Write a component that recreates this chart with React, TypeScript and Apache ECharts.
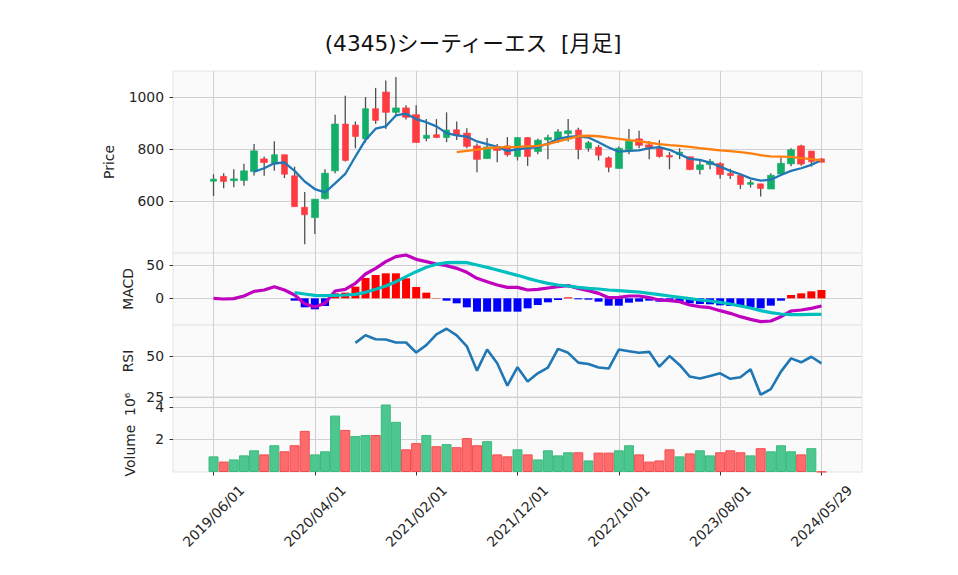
import React, { useEffect, useRef } from "react";
import * as echarts from "echarts";

const dates = [
  "2019/06/01", "2019/07/01", "2019/08/01", "2019/09/01", "2019/10/01", "2019/11/01", "2019/12/01",
  "2020/01/01", "2020/02/01", "2020/03/01", "2020/04/01", "2020/05/01", "2020/06/01", "2020/07/01",
  "2020/08/01", "2020/09/01", "2020/10/01", "2020/11/01", "2020/12/01",
  "2021/01/01", "2021/02/01", "2021/03/01", "2021/04/01", "2021/05/01", "2021/06/01", "2021/07/01",
  "2021/08/01", "2021/09/01", "2021/10/01", "2021/11/01", "2021/12/01",
  "2022/01/01", "2022/02/01", "2022/03/01", "2022/04/01", "2022/05/01", "2022/06/01", "2022/07/01",
  "2022/08/01", "2022/09/01", "2022/10/01", "2022/11/01", "2022/12/01",
  "2023/01/01", "2023/02/01", "2023/03/01", "2023/04/01", "2023/05/01", "2023/06/01", "2023/07/01",
  "2023/08/01", "2023/09/01", "2023/10/01", "2023/11/01", "2023/12/01",
  "2024/01/01", "2024/02/01", "2024/03/01", "2024/04/01", "2024/05/01", "2024/05/29",
];

const opens = [
  676, 695, 678, 679, 713, 762, 742, 778, 697, 576, 536, 609, 716, 896, 892, 839, 955, 1019, 941, 958,
  932, 841, 855, 844, 874, 861, 812, 763, 810, 812, 771, 844, 790, 835, 839, 859, 873, 803, 807, 766,
  725, 798, 839, 816, 803, 775, 778, 770, 721, 740, 744, 706, 699, 664, 666, 646, 704, 743, 812, 792, 762,
];
const closes = [
  684, 675, 685, 716, 793, 748, 778, 703, 578, 547, 607, 707, 896, 756, 848, 955, 910, 941, 958, 922,
  825, 853, 844, 873, 853, 810, 760, 808, 794, 778, 844, 771, 834, 844, 866, 870, 798, 824, 776, 730,
  803, 830, 814, 806, 771, 769, 788, 721, 739, 752, 702, 698, 663, 671, 648, 699, 745, 797, 742, 751, 749,
];
const highs = [
  703, 707, 722, 743, 819, 771, 830, 778, 732, 635, 608, 722, 932, 1005, 906, 1000, 1035, 1063, 1077, 968,
  968, 915, 915, 941, 906, 880, 821, 842, 819, 846, 846, 846, 839, 855, 877, 915, 882, 831, 816, 771,
  810, 877, 870, 831, 834, 788, 803, 770, 756, 762, 749, 724, 699, 681, 666, 707, 765, 803, 816, 792, 765,
];
const lows = [
  619, 649, 653, 659, 698, 697, 716, 688, 578, 434, 473, 606, 707, 752, 803, 825, 897, 877, 925, 913,
  825, 830, 842, 826, 835, 803, 711, 763, 749, 771, 756, 735, 780, 761, 823, 829, 761, 790, 756, 711,
  725, 780, 803, 761, 767, 722, 761, 718, 702, 722, 686, 685, 646, 652, 617, 646, 700, 734, 736, 733, 749,
];

// moving averages (null where not drawn)
const ma5 = [
  null, null, null, null, 713, 726, 745, 748, 716, 675, 646, 633, 668, 704, 771, 835, 878, 887, 929, 936,
  915, 903, 887, 861, 852, 848, 829, 819, 808, 793, 799, 803, 807, 821, 839, 847, 849, 844, 826, 806,
  790, 793, 795, 803, 807, 797, 780, 762, 758, 748, 732, 716, 703, 687, 678, 682, 700, 716, 726, 739, 758,
];
const ma25 = [
  null, null, null, null, null, null, null, null, null, null, null, null, null, null, null, null, null, null, null, null,
  null, null, null, null, 788, 793, 798, 803, 806, 807, 808, 810, 812, 819, 829, 839, 849, 851, 849, 844,
  839, 834, 830, 824, 819, 815, 812, 808, 803, 799, 795, 792, 788, 783, 776, 772, 771, 770, 765, 761, 756,
];

const macdLine = [
  0, -1, -0.5, 3.5, 10.5, 12.5, 17.5, 12.5, 5, -8, -13, -7.5, 11, 13.5, 22.5, 36.5, 45, 55, 62.5, 65,
  58.5, 55, 51.5, 49, 45, 39, 30, 25, 20, 16.5, 16.5, 12.5, 13.5, 15.5, 17.5, 19, 15, 11.5, 7.5, 1,
  1.5, 3.5, 3.5, 1, -2.5, -3.5, -5, -10, -12.5, -14, -18.5, -22.5, -27.5, -31.5, -35, -34, -27.5, -19, -17.5, -15, -11.5,
];
const signalLine = [
  null, null, null, null, null, null, null, null, 8.5, 6.5, 4.5, 4, 4.5, 5, 6, 9, 13.5, 18.5, 25, 32.5,
  40, 46.5, 51, 53.5, 54, 53.5, 50, 46.5, 42.5, 38.5, 34.5, 30, 26, 22.5, 20, 18.5, 16.5, 15, 14, 12.5,
  11.5, 10.5, 9.5, 7.5, 5.5, 3.5, 1.5, -0.5, -2.5, -4, -6, -8.5, -11.5, -14.5, -18.5, -21.5, -23.5, -24.5, -24.5, -24, -24,
];
const macdHist = [
  null, null, null, null, null, null, null, null, -3.5, -13.5, -16.5, -11.5, 7.5, 8.5, 17.5, 30.5, 35, 37.5, 37.5, 30,
  17, 8.5, 0.5, -3.5, -7.5, -13.5, -20, -20, -20, -20, -20, -15, -10, -6, -2.5, 1.5, -1.5, -2, -5, -11,
  -11, -6.5, -5, -3.5, -5, -5.5, -6.5, -7.5, -8.5, -9, -10.5, -11.5, -12.5, -13.5, -15, -11, -3.5, 5, 7.5, 10.5, 12.5,
];

const rsi14 = [
  null, null, null, null, null, null, null, null, null, null, null, null, null, null, 58.1, 62.7, 60.3, 60.1, 58.3, 58.3,
  52.2, 56.7, 63.3, 66.7, 62.7, 56, 41.1, 54, 45.6, 31.9, 43.2, 34.5, 39.5, 43, 54.4, 52, 46, 45.2, 43, 42.4,
  54, 53, 52, 52.6, 43.5, 50, 44.6, 37.5, 36.3, 37.9, 39.5, 36.1, 37.1, 42, 26.4, 29.8, 40.5, 48.6, 46.2, 49.6, 45.6,
];

const volumes = [
  960000, 640000, 770000, 1020000, 1330000, 1080000, 1640000, 1270000, 1640000, 2520000,
  1080000, 1270000, 3460000, 2580000, 2210000, 2270000, 2270000, 4140000, 3080000, 1390000,
  1770000, 2270000, 1580000, 1710000, 1520000, 2080000, 1640000, 1890000, 1080000, 960000,
  1390000, 1080000, 770000, 1330000, 1020000, 1210000, 1210000, 710000, 1190000, 1190000,
  1330000, 1640000, 1080000, 640000, 710000, 1390000, 960000, 1140000, 1330000, 1020000,
  1210000, 1330000, 1210000, 1020000, 1460000, 1270000, 1640000, 1270000, 1080000, 1460000, 20000,
];
// 1 = green (up) bar, 0 = red (down) bar, as drawn
const volumeUp = [
  1, 0, 1, 1, 1, 0, 1, 0, 0, 0, 1, 1, 1, 0, 1, 1, 0, 1, 1, 0,
  0, 1, 0, 1, 0, 0, 0, 1, 0, 0, 1, 0, 1, 1, 1, 1, 0, 1, 0, 0,
  1, 1, 0, 0, 0, 0, 1, 0, 1, 1, 0, 0, 0, 1, 0, 1, 1, 1, 0, 1, 0,
];

const priceTicks = [600, 800, 1000];
const macdTicks = [0, 50];
const rsiTicks = [25, 50];
const volumeTicks = [2000000, 4000000];

const PAD = 4;
const FONT = '"DejaVu Sans", "Noto Sans CJK JP", sans-serif';
const TEXT = "#262626";
const GRIDLINE = "#d0d0d0";

export default function App() {
  const ref = useRef<HTMLDivElement>(null);
  useEffect(() => {
    document.body.style.margin = "0";
    const chart = echarts.init(ref.current!, null, { renderer: "svg" });

    const categories = [
      ...Array.from({ length: PAD }, (_, k) => `pre${k}`),
      ...dates,
      ...Array.from({ length: PAD }, (_, k) => `post${k}`),
    ];
    const show = (idx: number) => idx >= PAD && (idx - PAD) % 10 === 0;
    const pts = (arr: (number | null)[]) =>
      arr.map((v, i) => (v == null ? null : [PAD + i, v])).filter((p) => p !== null);

    const grids = [
      { left: 173, width: 689, top: 71, height: 182 },
      { left: 173, width: 689, top: 253, height: 72 },
      { left: 173, width: 689, top: 325, height: 72 },
      { left: 173, width: 689, top: 397, height: 75 },
    ].map((g) => ({ ...g, show: true, backgroundColor: "#fafafa", borderColor: "#e4e4e4", borderWidth: 1 }));

    const xAxes = grids.map((_, k) => ({
      type: "category",
      gridIndex: k,
      data: categories,
      boundaryGap: false,
      axisLine: { show: false },
      axisTick: { show: k === 3, interval: show, length: 3.5, lineStyle: { color: "#333", width: 1 } },
      axisLabel: {
        show: k === 3,
        interval: show,
        rotate: 45,
        align: "center",
        verticalAlign: "middle",
        margin: 44,
        fontSize: 13.9,
        color: TEXT,
        fontFamily: FONT,
        formatter: (v: string) => v,
      },
      splitLine: { show: true, interval: show, lineStyle: { color: GRIDLINE, width: 1 } },
    }));

    const yBase = (k: number, ticks: number[], name: string, gap: number) => ({
      type: "value",
      gridIndex: k,
      axisLine: { show: false },
      axisTick: { show: true, length: 3.5, customValues: ticks, lineStyle: { color: "#333", width: 1 } },
      axisLabel: {
        customValues: ticks,
        margin: 9,
        fontSize: 13.9,
        lineHeight: 10,
        color: TEXT,
        fontFamily: FONT,
        formatter: (v: number) => String(v),
      },
      splitLine: { show: true, lineStyle: { color: GRIDLINE, width: 1 } },
      name,
      nameLocation: "middle",
      nameRotate: 90,
      nameGap: gap,
      nameTextStyle: { fontSize: 13.9, color: TEXT, fontFamily: FONT },
    });

    const y0 = { ...yBase(0, priceTicks, "Price", 57), min: 400, max: 1100, interval: 200 };
    const y1 = { ...yBase(1, macdTicks, "MACD", 38), min: -40, max: 68, splitNumber: 2 };
    const y2 = { ...yBase(2, rsiTicks, "RSI", 38), min: 25, max: 69, interval: 25 };
    const y3b = yBase(3, volumeTicks, "Volume  10⁶", 36);
    const y3 = {
      ...y3b,
      min: 0,
      max: 4600000,
      interval: 2000000,
      axisLabel: { ...y3b.axisLabel, formatter: (v: number) => String(v / 1000000) },
    };

    const wickData = dates.map((_, i) => [PAD + i, lows[i], highs[i]]);
    const bodyData = dates.map((_, i) => [
      PAD + i,
      opens[i],
      closes[i],
      Math.min(opens[i], closes[i]),
      Math.max(opens[i], closes[i]),
    ]);

    const histData = macdHist
      .map((v, i) =>
        v == null
          ? null
          : { value: [PAD + i, v], itemStyle: { color: v >= 0 ? "#ff0000" : "#0000ff" } }
      )
      .filter((d) => d !== null);

    const volData = volumes.map((v, i) => ({
      value: [PAD + i, v],
      itemStyle: volumeUp[i]
        ? { color: "#4cc78f", borderColor: "#3dba7f", borderWidth: 1 }
        : { color: "#fe6b6c", borderColor: "#f34c4f", borderWidth: 1 },
    }));

    const option = {
      animation: false,
      backgroundColor: "#ffffff",
      textStyle: { fontFamily: FONT },
      title: {
        text: "(4345)シーティーエス  [月足]",
        left: 468,
        top: 28,
        textAlign: "center",
        textStyle: { fontSize: 21.7, fontWeight: "normal", color: "#111", fontFamily: FONT },
      },
      grid: grids,
      xAxis: xAxes,
      yAxis: [y0, y1, y2, y3],
      series: [
        {
          type: "custom",
          name: "wick",
          xAxisIndex: 0,
          yAxisIndex: 0,
          data: wickData,
          encode: { x: 0, y: [1, 2] },
          z: 1,
          renderItem: (_params: any, api: any) => {
            const x = api.value(0);
            const lo = api.coord([x, api.value(1)]);
            const hi = api.coord([x, api.value(2)]);
            return {
              type: "line",
              shape: { x1: lo[0], y1: lo[1], x2: hi[0], y2: hi[1] },
              style: { stroke: "#505050", lineWidth: 1.3 },
            };
          },
        },
        {
          type: "candlestick",
          name: "price",
          xAxisIndex: 0,
          yAxisIndex: 0,
          data: bodyData,
          encode: { x: 0, y: [1, 2, 3, 4] },
          barWidth: 7,
          z: 2,
          itemStyle: {
            color: "#13ae68",
            color0: "#fd3c41",
            borderColor: "#13ae68",
            borderColor0: "#fd3c41",
            borderWidth: 0.6,
          },
        },
        {
          type: "line",
          name: "MA5",
          xAxisIndex: 0,
          yAxisIndex: 0,
          data: pts(ma5),
          showSymbol: false,
          symbol: "none",
          z: 3,
          lineStyle: { color: "#1f77b4", width: 2.3 },
        },
        {
          type: "line",
          name: "MA25",
          xAxisIndex: 0,
          yAxisIndex: 0,
          data: pts(ma25),
          showSymbol: false,
          symbol: "none",
          z: 3,
          lineStyle: { color: "#ff7f0e", width: 2.3 },
        },
        {
          type: "bar",
          name: "hist",
          xAxisIndex: 1,
          yAxisIndex: 1,
          data: histData,
          barWidth: 8,
        },
        {
          type: "line",
          name: "MACD",
          xAxisIndex: 1,
          yAxisIndex: 1,
          data: pts(macdLine),
          symbol: "none",
          z: 3,
          lineStyle: { color: "#bf00bf", width: 3.2 },
        },
        {
          type: "line",
          name: "Signal",
          xAxisIndex: 1,
          yAxisIndex: 1,
          data: pts(signalLine),
          symbol: "none",
          z: 3,
          lineStyle: { color: "#00bfbf", width: 3.2 },
        },
        {
          type: "line",
          name: "RSI",
          xAxisIndex: 2,
          yAxisIndex: 2,
          data: pts(rsi14),
          symbol: "none",
          lineStyle: { color: "#1f77b4", width: 2.6 },
        },
        {
          type: "bar",
          name: "Volume",
          xAxisIndex: 3,
          yAxisIndex: 3,
          data: volData,
          barWidth: 10,
        },
      ],
    };

    chart.setOption(option as any);
    return () => chart.dispose();
  }, []);
  return <div ref={ref} style={{ width: 958, height: 575 }} />;
}
